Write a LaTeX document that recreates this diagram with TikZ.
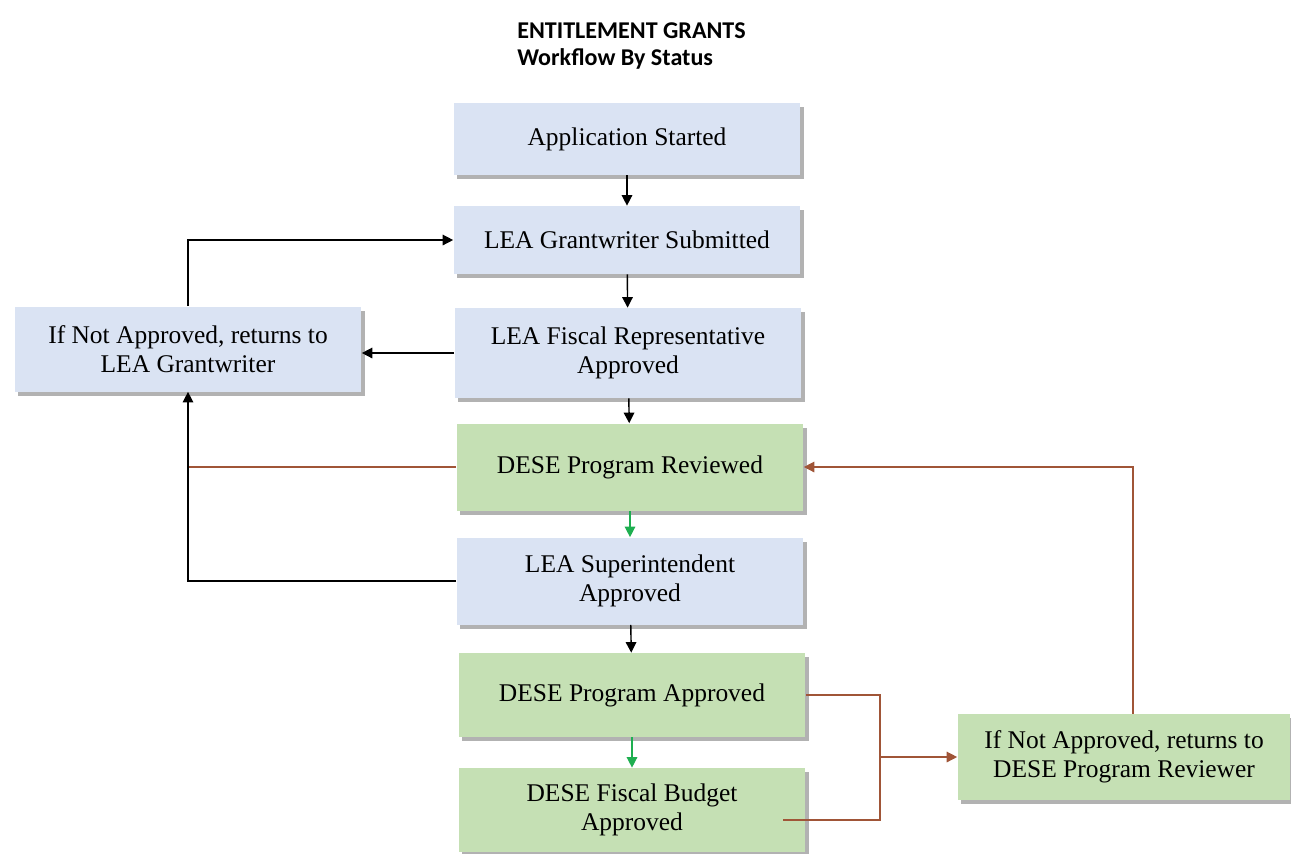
\documentclass[tikz,border=0pt]{standalone}
\usepackage{fontspec}
\setmainfont{Liberation Serif}
\newfontfamily\titlefont{Carlito}
\usetikzlibrary{arrows.meta,shadows}
\definecolor{boxblue}{RGB}{218,227,243}
\definecolor{boxgreen}{RGB}{197,224,180}
\definecolor{backbrown}{RGB}{160,85,55}
\definecolor{stepgreen}{RGB}{30,175,80}
\begin{document}
\begin{tikzpicture}[x=0.02cm,y=-0.02cm,
  status/.style={draw=none,align=center,font=\fontsize{14.5}{16.5}\selectfont,
    minimum width=6.94cm,inner sep=2pt,
    drop shadow={shadow xshift=2pt,shadow yshift=-2.5pt,fill=black,opacity=0.3}},
  bluebox/.style={status,fill=boxblue},
  greenbox/.style={status,fill=boxgreen},
  arr/.style={-{Triangle[length=6pt,width=6pt]},thick,black},
  greenarr/.style={-{Triangle[length=6pt,width=6pt]},thick,stepgreen},
  brownline/.style={thick,backbrown},
  brownarr/.style={-{Triangle[length=6pt,width=6pt]},thick,backbrown}]
 \useasboundingbox (0,0) rectangle (1291,853);
 % title
 \node[anchor=west,align=left,inner sep=0pt,font=\titlefont\bfseries\fontsize{13.7}{15.4}\selectfont] (title) at (517,46) {ENTITLEMENT GRANTS\\Workflow By Status};
 % main column
 \node[bluebox,minimum height=1.44cm] (start) at (627,139) {Application Started};
 \node[bluebox,minimum height=1.36cm] (submit) at (627,240) {LEA Grantwriter Submitted};
 \node[bluebox,minimum height=1.8cm] (fiscal) at (628,353) {LEA Fiscal Representative\\Approved};
 \node[greenbox,minimum height=1.74cm] (review) at (630,467) {DESE Program Reviewed};
 \node[bluebox,minimum height=1.74cm] (super) at (630,581) {LEA Superintendent\\Approved};
 \node[greenbox,minimum height=1.68cm] (approved) at (632,695) {DESE Program Approved};
 \node[greenbox,minimum height=1.68cm] (budget) at (632,810) {DESE Fiscal Budget\\Approved};
 % return boxes
 \node[bluebox,minimum width=6.94cm,minimum height=1.7cm] (leftback) at (188,349) {If Not Approved, returns to\\LEA Grantwriter};
 \node[greenbox,minimum width=6.66cm,minimum height=1.72cm] (rightback) at (1124,757) {If Not Approved, returns to\\DESE Program Reviewer};
 \coordinate (merge) at (880,757);
 % forward steps
 \draw[arr] (start) -- (submit);
 \draw[arr] (submit) -- (fiscal);
 \draw[arr] (fiscal) -- (review);
 \draw[greenarr] (review) -- (super);
 \draw[arr] (super) -- (approved);
 \draw[greenarr] (approved) -- (budget);
 % returns to LEA grantwriter
 \draw[arr] (fiscal.west) -- (fiscal.west -| leftback.east);
 \draw[arr] (leftback.north) |- (submit.west);
 \draw[brownline] (review.west) -- (review.west -| leftback.south);
 \draw[arr] (super.west) -| (leftback.south);
 % returns to DESE reviewer
 \draw[brownline] (approved.east) -| (merge);
 \draw[brownline] ([xshift=-0.45cm,yshift=-0.2cm]budget.east) -| (merge);
 \draw[brownarr] (merge) -- (rightback.west);
 \draw[brownarr] ([xshift=0.18cm]rightback.north) |- (review.east);
\end{tikzpicture}
\end{document}
